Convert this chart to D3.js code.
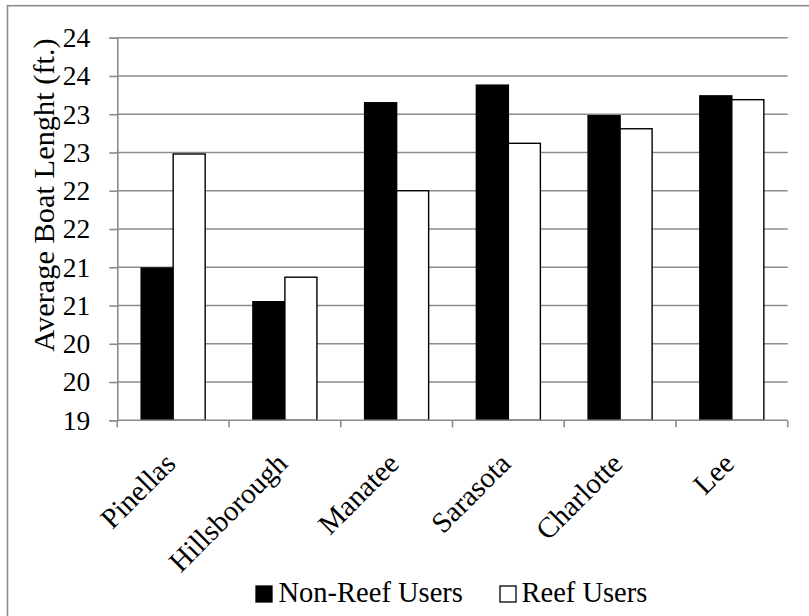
<!DOCTYPE html>
<html>
<head>
<meta charset="utf-8">
<script src="https://cdn.jsdelivr.net/npm/d3@7"></script>
<style>
  html, body { margin: 0; padding: 0; background: #fff; }
</style>
</head>
<body>
<svg id="chart" width="809" height="616"></svg>
<script>
// County averages of boat length, by user group
const counties = ["Pinellas", "Hillsborough", "Manatee", "Sarasota", "Charlotte", "Lee"];
const seriesNames = ["Non-Reef Users", "Reef Users"];
const nonReefUsers = [20.99, 20.55, 23.15, 23.38, 22.98, 23.24];
const reefUsers = [22.48, 20.87, 22.00, 22.62, 22.81, 23.19];
const yTicks = [19, 19.5, 20, 20.5, 21, 21.5, 22, 22.5, 23, 23.5, 24];

(function () {
  const serif = "'Liberation Serif', 'Times New Roman', serif";
  const svg = d3.select("#chart");
  const plotLeft = 117.3, plotRight = 787.7, plotTop = 37.7, plotBottom = 420.3;
  const gridColor = "#8c8c8c";

  // outer chart frame
  svg.append("rect")
    .attr("x", 7.5).attr("y", 5.7).attr("width", 820).attr("height", 640)
    .attr("fill", "#fff").attr("stroke", gridColor).attr("stroke-width", 1.6);

  const y = d3.scaleLinear().domain([19, 24]).range([plotBottom, plotTop]);
  const x = d3.scaleBand().domain(counties).range([plotLeft, plotRight])
    .paddingInner(0.427).paddingOuter(0.2135);
  const xs = d3.scaleBand().domain(seriesNames).range([0, x.bandwidth()]);

  // horizontal gridlines
  svg.append("g").selectAll("line").data(yTicks.slice(1)).join("line")
    .attr("x1", plotLeft).attr("x2", plotRight)
    .attr("y1", d => y(d)).attr("y2", d => y(d))
    .attr("stroke", gridColor).attr("stroke-width", 1.6);

  // bars
  const rows = counties.map((c, i) => ({ c, vals: [nonReefUsers[i], reefUsers[i]] }));
  const groups = svg.append("g").selectAll("g").data(rows).join("g")
    .attr("transform", d => `translate(${x(d.c)},0)`);
  groups.selectAll("rect").data(d => d.vals.map((v, k) => ({ v, s: seriesNames[k] }))).join("rect")
    .attr("x", d => xs(d.s))
    .attr("width", xs.bandwidth())
    .attr("y", d => y(d.v))
    .attr("height", d => y(19) - y(d.v))
    .attr("fill", d => d.s === seriesNames[0] ? "#000" : "#fff")
    .attr("stroke", "#000").attr("stroke-width", 1.4);

  // y axis
  const yAxis = svg.append("g").attr("transform", `translate(${plotLeft},0)`)
    .call(d3.axisLeft(y).tickValues(yTicks).tickSize(8).tickPadding(19)
      .tickFormat(d => Math.round(d)));
  yAxis.select(".domain").attr("stroke", gridColor).attr("stroke-width", 1.6);
  yAxis.selectAll(".tick line").attr("stroke", gridColor).attr("stroke-width", 1.6);
  yAxis.selectAll("text").attr("fill", "#000")
    .style("font-family", serif).style("font-size", "27.5px");

  // x axis with boundary ticks between categories
  const xAxisG = svg.append("g").attr("transform", `translate(0,${plotBottom})`);
  xAxisG.append("line").attr("x1", plotLeft).attr("x2", plotRight)
    .attr("stroke", gridColor).attr("stroke-width", 1.6);
  const step = x.step();
  xAxisG.selectAll("line.tk").data(d3.range(counties.length + 1)).join("line")
    .attr("class", "tk")
    .attr("x1", i => plotLeft + i * step).attr("x2", i => plotLeft + i * step)
    .attr("y1", 0).attr("y2", 7)
    .attr("stroke", gridColor).attr("stroke-width", 1.6);
  xAxisG.selectAll("text").data(counties).join("text")
    .attr("transform", d => `translate(${x(d) + x.bandwidth() / 2 + 4},${45}) rotate(-45)`)
    .attr("text-anchor", "end")
    .style("font-family", serif).style("font-size", "29px")
    .text(d => d);

  // y axis title
  svg.append("text")
    .attr("transform", `translate(54,195) rotate(-90)`)
    .attr("text-anchor", "middle")
    .style("font-family", serif).style("font-size", "30.4px")
    .text("Average Boat Lenght (ft.)");

  // legend
  const legend = svg.append("g");
  const legendItems = [
    { name: seriesNames[0], fill: "#000", sx: 256, tx: 278.5 },
    { name: seriesNames[1], fill: "#fff", sx: 500, tx: 521.5 }
  ];
  legendItems.forEach(it => {
    legend.append("rect").attr("x", it.sx).attr("y", 586).attr("width", 16).attr("height", 16)
      .attr("fill", it.fill).attr("stroke", "#000").attr("stroke-width", 1.3);
    legend.append("text").attr("x", it.tx).attr("y", 602.3)
      .style("font-family", serif).style("font-size", "28.5px").text(it.name);
  });
})();
</script>
</body>
</html>
